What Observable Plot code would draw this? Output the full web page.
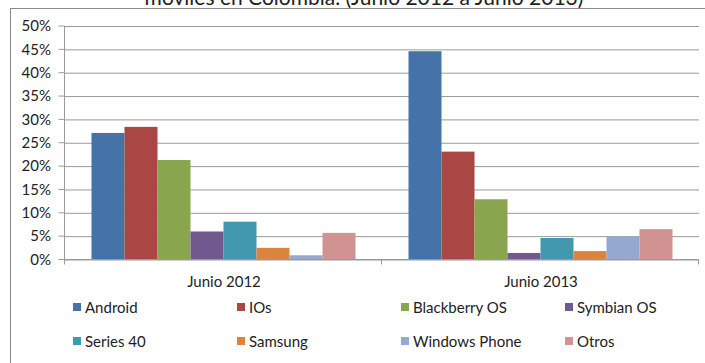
<!DOCTYPE html>
<html>
<head>
<meta charset="utf-8">
<script src="https://cdn.jsdelivr.net/npm/d3@7"></script>
<script src="https://cdn.jsdelivr.net/npm/@observablehq/plot@0.6"></script>
<style>
  html, body { margin: 0; padding: 0; background: #fff; }
  body { width: 705px; height: 363px; overflow: hidden; position: relative; font-family: Lato, "Open Sans", sans-serif; color: #222; }
  #frame { position: absolute; left: 10px; top: 8px; width: 800px; height: 400px; border-left: 1px solid #8a8a8a; border-top: 1px solid #8a8a8a; }
  #title { position: absolute; left: 0; width: 728px; top: -14px; text-align: center; font-size: 21px; line-height: 21px; white-space: nowrap; color: #222; }
  #chart { position: absolute; left: 0; top: 9px; }
  #legend { position: absolute; left: 73px; top: 299px; width: 660px; }
  .item { position: absolute; display: flex; align-items: center; height: 16px; font-size: 15px; white-space: nowrap; }
  .sw { width: 8px; height: 8px; margin-right: 4px; flex: none; }
</style>
</head>
<body>
<div id="frame"></div>
<div id="title">móviles en Colombia. (Junio 2012 a Junio 2013)</div>
<div id="chart"></div>
<div id="legend"></div>
<script>
const categories = ["Junio 2012", "Junio 2013"];
const systems = ["Android", "IOs", "Blackberry OS", "Symbian OS", "Series 40", "Samsung", "Windows Phone", "Otros"];
const junio2012 = [27.1, 28.4, 21.3, 6.0, 8.1, 2.5, 0.9, 5.7];
const junio2013 = [44.6, 23.1, 12.9, 1.4, 4.6, 1.8, 5.0, 6.5];
const colors = ["#4572A7", "#AA4643", "#89A54E", "#71588F", "#4198AF", "#DB843D", "#93A9CF", "#D19392"];
const yTicks = [0, 5, 10, 15, 20, 25, 30, 35, 40, 45, 50];

const series = [junio2012, junio2013];
const data = categories.flatMap((c, ci) => systems.map((s, si) => ({cat: c, os: s, value: series[ci][si]})));

const gridColor = "#9a9a9a";

const chart = Plot.plot({
  width: 705,
  height: 285,
  marginLeft: 64.5,
  marginRight: 6.5,
  marginTop: 17,
  marginBottom: 34.5,
  style: {fontFamily: "Lato, 'Open Sans', sans-serif", fontSize: "15px", color: "#222", background: "transparent", overflow: "visible"},
  fx: {domain: categories, padding: 0, label: null, tickSize: 0, tickPadding: 16},
  x: {domain: systems, paddingInner: 0, paddingOuter: 0.75, axis: null},
  y: {domain: [0, 50], ticks: yTicks, tickFormat: d => d + "%", tickSize: 0, tickPadding: 14.5, label: null},
  color: {domain: systems, range: colors},
  marks: [
    Plot.ruleY(yTicks, {stroke: gridColor, strokeWidth: 1}),
    Plot.barY(data, {fx: "cat", x: "os", y: "value", fill: "os"})
  ]
});
document.getElementById("chart").appendChild(chart);

// Axis lines and category boundary ticks (Excel style) drawn with the plot's own scales
const fxs = chart.scale("fx");
const ys = chart.scale("y");
const fxScale = d3.scaleBand().domain(fxs.domain).range(fxs.range)
  .paddingInner(fxs.paddingInner ?? fxs.padding ?? 0)
  .paddingOuter(fxs.paddingOuter ?? fxs.padding ?? 0)
  .align(fxs.align ?? 0.5);
const yScale = d3.scaleLinear().domain(ys.domain).range(ys.range);
const svg = d3.select(chart);
const g = svg.append("g").attr("stroke", gridColor).attr("stroke-width", 1).attr("fill", "none");
const x0 = fxScale(categories[0]);
const x1 = fxScale(categories[categories.length - 1]) + fxScale.bandwidth();
const yBase = yScale(0), yTop = yScale(50);
g.append("line").attr("x1", x0).attr("x2", x0).attr("y1", yTop).attr("y2", yBase + 5);
yTicks.forEach(t => g.append("line").attr("x1", x0 - 6).attr("x2", x0).attr("y1", yScale(t)).attr("y2", yScale(t)));
g.append("line").attr("x1", x0).attr("x2", x1).attr("y1", yBase).attr("y2", yBase);
categories.forEach(c => {
  const xr = fxScale(c) + fxScale.bandwidth();
  g.append("line").attr("x1", xr).attr("x2", xr).attr("y1", yBase).attr("y2", yBase + 5);
});

// Legend
const legend = document.getElementById("legend");
systems.forEach((s, i) => {
  const item = document.createElement("div");
  item.className = "item";
  item.style.left = (i % 4) * 164 + "px";
  item.style.top = Math.floor(i / 4) * 34 + "px";
  const sw = document.createElement("span");
  sw.className = "sw";
  sw.style.background = colors[i];
  const tx = document.createElement("span");
  tx.textContent = s;
  item.appendChild(sw);
  item.appendChild(tx);
  legend.appendChild(item);
});
</script>
</body>
</html>
